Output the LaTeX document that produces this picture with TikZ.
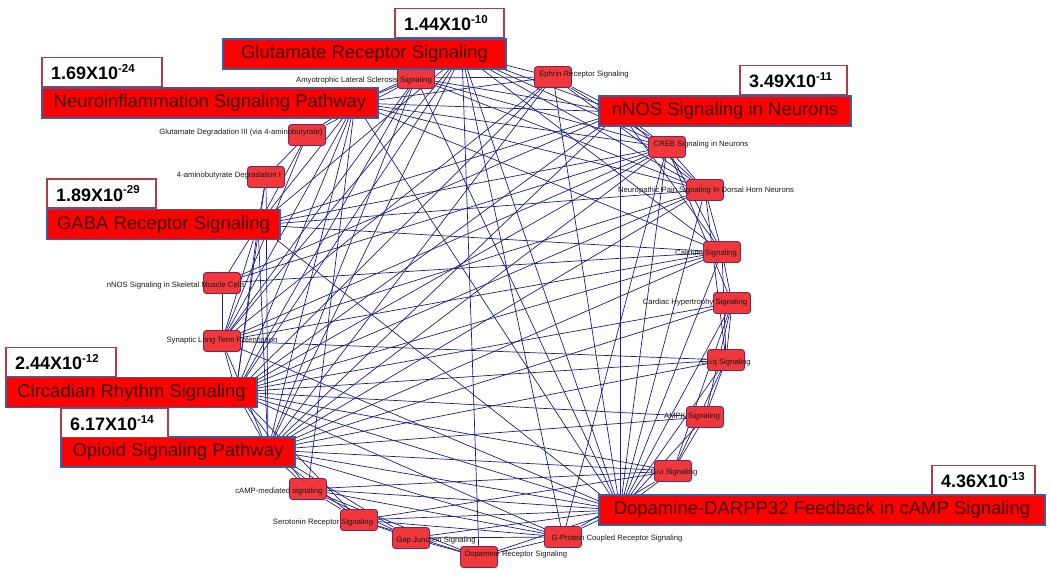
\documentclass[tikz,border=0pt]{standalone}
\usepackage{fontspec}
\setmainfont{Liberation Sans}
\usetikzlibrary{positioning,backgrounds}
\definecolor{edgeblue}{RGB}{30,30,130}
\definecolor{nodefill}{RGB}{240,55,60}
\definecolor{nodeedge}{RGB}{120,35,90}
\definecolor{tagedge}{RGB}{55,95,165}
\definecolor{tagtext}{RGB}{60,0,0}
\definecolor{pedge}{RGB}{175,60,70}

\begin{document}
\begin{tikzpicture}[
    x=1pt, y=-1pt,
    pw/.style={
        rectangle,
        rounded corners=3pt,
        minimum width=37pt,
        minimum height=21pt,
        inner sep=0pt,
        draw=nodeedge,
        line width=0.9pt,
        fill=nodefill
    },
    pwtext/.style={
        font=\fontsize{7.7}{8}\selectfont,
        text=black!90,
        inner sep=0pt
    },
    tag/.style={
        rectangle,
        draw=tagedge,
        line width=1.5pt,
        fill=red,
        text=tagtext,
        font=\fontsize{18.5}{20}\selectfont,
        minimum height=30pt,
        inner sep=0pt
    },
    pbox/.style={
        rectangle,
        draw=pedge,
        line width=1.2pt,
        fill=white,
        font=\bfseries\fontsize{18}{19}\selectfont,
        minimum height=29pt,
        inner xsep=9pt,
        inner ysep=0pt,
        align=left
    },
    link/.style={
        draw=edgeblue,
        line width=0.7pt
    }
]
\useasboundingbox (0,0) rectangle (1050,575);

% pathways round the circle
\node (glur) [pw] at (462,54) {};
\node (als) [pw, label={[pwtext, xshift=-52pt, yshift=-3pt]center:Amyotrophic Lateral Sclerosis Signaling}] at (416,78) {};
\node (eph) [pw, label={[pwtext, xshift=31pt, yshift=2pt]center:Ephrin Receptor Signaling}] at (553,77) {};
\node (nnosn) [pw] at (620,112) {};
\node (creb) [pw, label={[pwtext, xshift=34pt, yshift=2pt]center:CREB Signaling in Neurons}] at (667,147) {};
\node (npain) [pw, label={[pwtext, xshift=1pt, yshift=-1pt]center:Neuropathic Pain Signaling In Dorsal Horn Neurons}] at (705,190) {};
\node (calc) [pw, label={[pwtext, xshift=-16pt, yshift=-2pt]center:Calcium Signaling}] at (722,252) {};
\node (card) [pw, label={[pwtext, xshift=-37pt]center:Cardiac Hypertrophy Signaling}] at (732,303) {};
\node (gaq) [pw, label={[pwtext, yshift=-3pt]center:G$\alpha$q Signaling}] at (726,360) {};
\node (ampk) [pw, label={[pwtext, xshift=-13pt]center:AMPK Signaling}] at (705,417) {};
\node (gai) [pw, label={[pwtext, xshift=1pt, yshift=-2pt]center:G$\alpha$i Signaling}] at (673,471) {};
\node (darpp) [pw] at (620,510) {};
\node (gpcr) [pw, label={[pwtext, xshift=54pt, yshift=-2pt]center:G-Protein Coupled Receptor Signaling}] at (563,537) {};
\node (dopr) [pw, label={[pwtext, xshift=37pt, yshift=2pt]center:Dopamine Receptor Signaling}] at (479,557) {};
\node (gap) [pw, label={[pwtext, xshift=25pt, yshift=-3pt]center:Gap Junction Signaling}] at (411,538) {};
\node (sero) [pw, label={[pwtext, xshift=-36pt, yshift=-3pt]center:Serotonin Receptor Signaling}] at (359,520) {};
\node (camp) [pw, label={[pwtext, xshift=-29pt, yshift=-3pt]center:cAMP-mediated signaling}] at (308,489) {};
\node (opio) [pw] at (268,450) {};
\node (circ) [pw] at (236,392) {};
\node (sltp) [pw, label={[pwtext]center:Synaptic Long Term Potentiation}] at (222,341) {};
\node (nnoss) [pw, label={[pwtext, xshift=-46pt, yshift=-3pt]center:nNOS Signaling in Skeletal Muscle Cells}] at (222,283) {};
\node (gaba) [pw] at (258,225) {};
\node (abut) [pw, label={[pwtext, xshift=-37pt, yshift=1pt]center:4-aminobutyrate Degradation I}] at (266,177) {};
\node (glud) [pw, label={[pwtext, xshift=-66pt, yshift=2pt]center:Glutamate Degradation III (via 4-aminobutyrate)}] at (307,135) {};
\node (neuro) [pw] at (355,103) {};

% shared molecules
\begin{scope}[on background layer]
\foreach \src/\dsts in {
    glur/{als,eph,nnosn,creb,npain,calc,darpp,gpcr,dopr,opio,circ,sltp,neuro,gaba,glud},
    als/{neuro,eph,nnosn,creb,npain,darpp,sltp,circ,opio},
    eph/{nnosn,creb,npain,neuro,circ,sltp,opio,darpp},
    nnosn/{creb,npain,calc,darpp,neuro,opio,circ,nnoss,gaba},
    creb/{npain,calc,card,darpp,neuro,opio,circ,sltp,nnoss,gaba,gpcr},
    npain/{calc,gaq,darpp,neuro,opio,circ,sltp,gaba},
    calc/{card,gaq,darpp,neuro,opio,circ,sltp,nnoss,gaba},
    card/{gaq,ampk,gai,darpp,opio,circ},
    gaq/{ampk,gai,darpp,opio,circ,sltp},
    ampk/{gai,darpp,opio,circ},
    gai/{darpp,gpcr,opio,camp,sero,circ},
    darpp/{gpcr,dopr,gap,sero,camp,opio,circ,sltp,neuro,gaba},
    gpcr/{dopr,gap,sero,camp,opio,circ},
    dopr/{gap,sero,camp},
    gap/{sero,camp,opio},
    sero/{camp,opio,circ},
    camp/{opio,circ,neuro},
    opio/{circ,sltp,gaba,neuro,abut},
    circ/{sltp,gaba,neuro,abut},
    sltp/{nnoss,gaba,neuro,glud},
    nnoss/{gaba},
    gaba/{abut,glud,neuro},
    abut/{glud},
    glud/{neuro}}
    \foreach \dst in \dsts
        \draw [link] (\src) -- (\dst);
\end{scope}

% highlighted pathways
\node (glurtag) [tag, minimum width=283pt] at (364.5,54) {Glutamate Receptor Signaling};
\node (neurotag) [tag, minimum width=336pt] at (210,103) {Neuroinflammation Signaling Pathway};
\node (nnosntag) [tag, minimum width=252pt] at (725,111) {nNOS Signaling in Neurons};
\node (gabatag) [tag, minimum width=233pt] at (163.5,224.5) {GABA Receptor Signaling};
\node (circtag) [tag, minimum width=251pt] at (131.5,392.5) {Circadian Rhythm Signaling};
\node (opiotag) [tag, minimum width=234pt] at (178,452) {Opioid Signaling Pathway};
\node (darpptag) [tag, minimum width=446pt] at (822,510) {Dopamine-DARPP32 Feedback in cAMP Signaling};

% p-values
\node (glurp) [pbox, text width=91pt] at (449.5,23) {1.44X10\raisebox{0.42em}{\fontsize{11.5}{12}\selectfont -10}};
\node (neurop) [pbox, text width=102pt] at (102,72) {1.69X10\raisebox{0.42em}{\fontsize{11.5}{12}\selectfont -24}};
\node (nnosnp) [pbox, text width=89pt] at (793.5,80) {3.49X10\raisebox{0.42em}{\fontsize{11.5}{12}\selectfont -11}};
\node (gabap) [pbox, text width=91pt] at (101.5,193.5) {1.89X10\raisebox{0.42em}{\fontsize{11.5}{12}\selectfont -29}};
\node (circp) [pbox, text width=92pt] at (61,362) {2.44X10\raisebox{0.42em}{\fontsize{11.5}{12}\selectfont -12}};
\node (opiop) [pbox, text width=89pt] at (114.5,423) {6.17X10\raisebox{0.42em}{\fontsize{11.5}{12}\selectfont -14}};
\node (darppp) [pbox, text width=85pt] at (983.5,480) {4.36X10\raisebox{0.42em}{\fontsize{11.5}{12}\selectfont -13}};
\end{tikzpicture}
\end{document}
